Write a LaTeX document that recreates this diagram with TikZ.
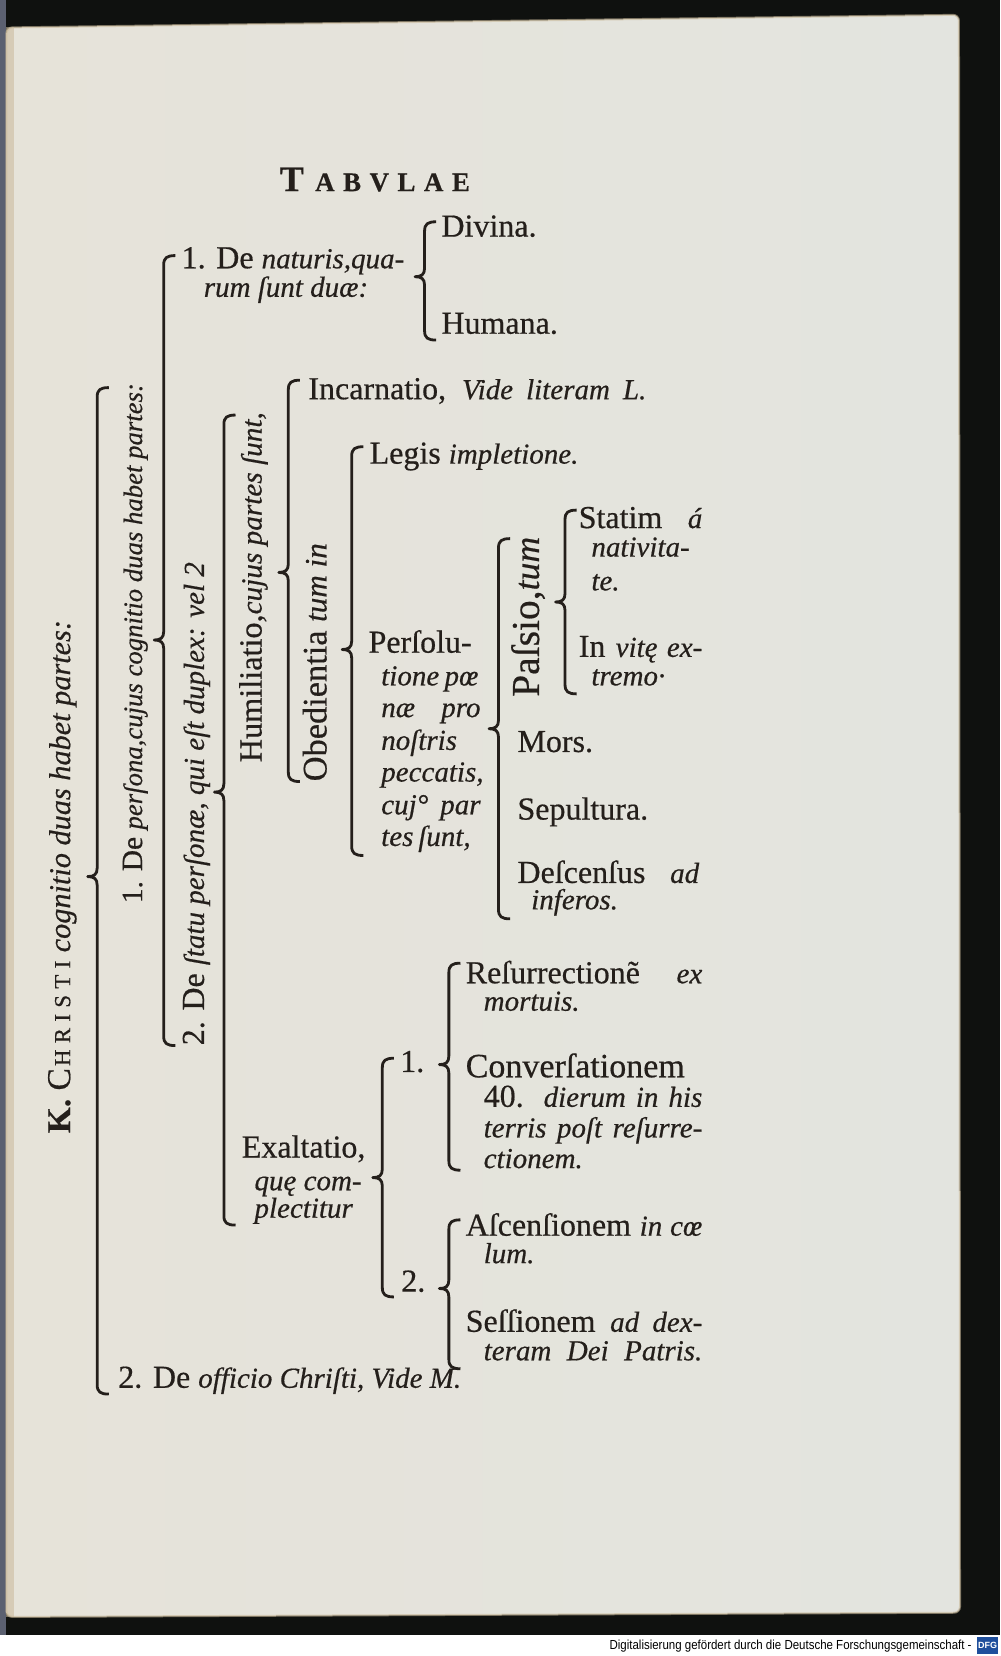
\documentclass[tikz,border=0pt]{standalone}
\usepackage{fontspec}
\usepackage{graphicx}
\setmainfont{Liberation Serif}[FakeBold=0.5]
\newfontfamily\dfgfont{Liberation Sans}
\definecolor{ink}{HTML}{241F1B}
\definecolor{paperL}{HTML}{E6E3D9}
\definecolor{paperR}{HTML}{E3E4DF}
\definecolor{edgetan}{HTML}{C9B99A}
\definecolor{scanblack}{HTML}{0F110F}
\definecolor{leftgray}{HTML}{5B6070}
\definecolor{dfgblue}{HTML}{1F4F9C}
\newcommand{\romf}{\fontsize{32}{34}\selectfont\upshape}
\newcommand{\itf}{\fontsize{29}{34}\selectfont\itshape}
\newcommand{\jl}[2]{\makebox[\dimexpr#1pt*1056/1000\relax][s]{#2}}
\newcommand{\kbrace}[4]{%
  \draw[bracestroke] ({#1+11},{#2}) .. controls ({#1+3},{#2}) and ({#1},{#2+2}) .. ({#1},{#2+9})
    -- ({#1},{#3-8}) .. controls ({#1},{#3-2}) and ({#1-3},{#3}) .. ({#1-9},{#3})
    .. controls ({#1-3},{#3}) and ({#1},{#3+2}) .. ({#1},{#3+8})
    -- ({#1},{#4-9}) .. controls ({#1},{#4-2}) and ({#1+3},{#4}) .. ({#1+11},{#4});}
\tikzset{
  txt/.style={anchor=base west, inner sep=0pt, outer sep=0pt, text=ink},
  rot/.style={rotate=90, inner sep=0pt, outer sep=0pt, text=ink},
  bracestroke/.style={draw=ink, line width=2.8pt, line join=round},
}
\begin{document}
\begin{tikzpicture}[x=1.056pt, y=-1.056pt]
\useasboundingbox (0,0) rectangle (947,1568);
% scan background
\fill[white] (0,0) rectangle (947,1568);
\fill[scanblack] (0,0) rectangle (947,1548);
\fill[leftgray] (0,0) rectangle (6,1548);
\shade[left color=paperL, right color=paperR, rounded corners=6pt]
  (6,26) -- (908,14) -- (909,1527) -- (6,1531) -- cycle;
\fill[edgetan, opacity=0.55] (6,26) rectangle (13,1531);
\draw[edgetan, opacity=0.6, line width=2pt, rounded corners=6pt]
  (6,26) -- (908,14) -- (909,1527) -- (6,1531) -- cycle;

% title
\node[txt] (title) at (265,181) {\bfseries\makebox[190pt][s]{\fontsize{36}{36}\selectfont T \fontsize{27}{27}\selectfont A B V L A E}};

% rotated labels
\node[rot] (christi) at (59,830) {\resizebox{513pt}{!}{\romf \textbf{K.} C\kern2pt{\fontsize{22}{22}\selectfont H\kern6pt R\kern6pt I\kern6pt S\kern6pt T\kern6pt I} \itf cognitio duas habet partes:}};
\node[rot] (persona) at (128,609) {\resizebox{520pt}{!}{\romf 1. De \itf perſona,cujus cognitio duas habet partes:}};
\node[rot] (statu) at (186,761) {\resizebox{483pt}{!}{\romf 2. De \itf ſtatu perſonæ, qui eſt duplex: vel 2}};
\node[rot] (humil) at (240,556) {\resizebox{350pt}{!}{\romf Humiliatio,\itf cujus partes ſunt,}};
\node[rot] (obed) at (298,627) {\resizebox{238pt}{!}{\romf Obedientia \itf tum in}};
\node[rot] (passio) at (500,584) {\resizebox{160pt}{!}{\romf Paſsio,\itf tum}};

% horizontal texts
\node[txt] (naturisA) at (172,254) {\romf 1. De \itf naturis,qua-};
\node[txt] (naturisB) at (193,281) {\itf rum ſunt duæ:};
\node[txt] (divina) at (418,224) {\romf Divina.};
\node[txt] (humana) at (418,316) {\romf Humana.};
\node[txt] (incarn) at (292,378) {\jl{320}{\romf Incarnatio, \itf Vide literam L.}};
\node[txt] (legis) at (350,439) {\romf Legis \itf impletione.};
\node[txt] (statimA) at (548,500) {\jl{117}{\romf Statim \itf á}};
\node[txt] (statimB) at (560,527) {\itf nativita-};
\node[txt] (statimC) at (560,559) {\itf te.};
\node[txt] (vitaeA) at (548,622) {\jl{117}{\romf In \itf vitę ex-}};
\node[txt] (vitaeB) at (560,649) {\itf tremo·};
\node[txt] (persA) at (349,618) {\romf Perſolu-};
\node[txt] (persB) at (361,649) {\jl{92}{\itf tione pœ}};
\node[txt] (persC) at (361,679) {\jl{94}{\itf næ pro}};
\node[txt] (persD) at (361,710) {\itf noſtris};
\node[txt] (persE) at (361,740) {\itf peccatis,};
\node[txt] (persF) at (361,771) {\jl{94}{\itf cuj° par}};
\node[txt] (persG) at (361,801) {\jl{84}{\itf tes ſunt,}};
\node[txt] (mors) at (490,712) {\romf Mors.};
\node[txt] (sepult) at (490,776) {\romf Sepultura.};
\node[txt] (descA) at (490,836) {\jl{172}{\romf Deſcenſus \itf ad}};
\node[txt] (descB) at (503,861) {\itf inferos.};
\node[txt] (resA) at (441,931) {\jl{224}{\romf Reſurrectionẽ \itf ex}};
\node[txt] (resB) at (458,957) {\itf mortuis.};
\node[txt] (convA) at (441,1020) {\resizebox{219pt}{!}{\romf Converſationem}};
\node[txt] (convB) at (458,1048) {\jl{207}{\romf 40. \itf dierum in his}};
\node[txt] (convC) at (458,1077) {\jl{207}{\itf terris poſt reſurre-}};
\node[txt] (convD) at (458,1106) {\itf ctionem.};
\node[txt] (exA) at (229,1096) {\romf Exaltatio,};
\node[txt] (exB) at (241,1127) {\itf quę com-};
\node[txt] (exC) at (241,1153) {\itf plectitur};
\node[txt] (one) at (379,1015) {\romf 1.};
\node[txt] (two) at (380,1223) {\romf 2.};
\node[txt] (ascA) at (441,1170) {\jl{224}{\romf Aſcenſionem \itf in cœ}};
\node[txt] (ascB) at (458,1196) {\itf lum.};
\node[txt] (sessA) at (441,1261) {\jl{224}{\romf Seſſionem \itf ad dex-}};
\node[txt] (sessB) at (458,1288) {\jl{207}{\itf teram Dei Patris.}};
\node[txt] (officio) at (112,1314) {\romf 2. De \itf officio Chriſti, Vide M.};

% brackets
\kbrace{402}{210}{262}{322}
\kbrace{155}{242}{606}{990}
\kbrace{92}{367}{830}{1320}
\kbrace{212}{393}{750}{1160}
\kbrace{273}{360}{542}{740}
\kbrace{333}{423}{615}{810}
\kbrace{472}{510}{690}{870}
\kbrace{535}{483}{570}{657}
\kbrace{362}{1002}{1115}{1228}
\kbrace{425}{912}{1008}{1108}
\kbrace{425}{1155}{1220}{1296}

% digitisation credit
\node[anchor=base west, inner sep=0pt] (dfgtxt) at (577,1562) {\resizebox{362pt}{9.5pt}{\dfgfont Digitalisierung gefördert durch die Deutsche Forschungsgemeinschaft -}};
\node[fill=dfgblue, text=white, inner sep=0pt, minimum width=21pt, minimum height=17pt, anchor=west] (dfglogo) at (925,1558) {\dfgfont\bfseries\fontsize{9}{9}\selectfont DFG};
\end{tikzpicture}
\end{document}
